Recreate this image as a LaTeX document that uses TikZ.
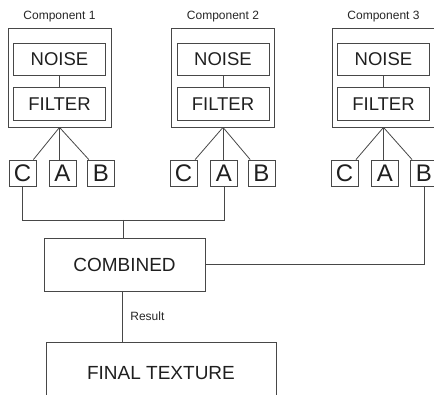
\documentclass[tikz,border=0pt]{standalone}
\usepackage{fontspec}
\setmainfont{Liberation Sans}
\begin{document}
\begin{tikzpicture}[x=1pt,y=-1pt,
  line/.style={draw=black!72,line width=0.8pt},
  outerbox/.style={line,minimum width=103pt,minimum height=99pt,inner sep=0pt},
  innerbox/.style={line,minimum width=92pt,minimum height=32.5pt,inner sep=0pt,font=\fontsize{18.5}{20}\selectfont,text=black!88},
  letterbox/.style={line,minimum width=27pt,minimum height=26pt,inner sep=0pt,font=\fontsize{24}{24}\selectfont,text=black!88},
  biglabel/.style={font=\fontsize{12}{14}\selectfont,text=black!85,inner sep=0pt},
  bigbox/.style={line,inner sep=0pt,font=\fontsize{19}{21}\selectfont,text=black!88}]
\useasboundingbox (0,0) rectangle (434,395);
\clip (0,0) rectangle (434,395);
% components
\foreach \i/\cx in {1/59.5,2/223,3/383.5}{
  \node[biglabel] (lab\i) at (\cx,17) {Component \i};
  \node[outerbox] (comp\i) at (\cx,77.5) {};
  \node[innerbox] (noise\i) at (\cx,59.5) {NOISE};
  \node[innerbox] (filter\i) at (\cx,104) {FILTER};
  \draw[line] (noise\i) -- (filter\i);
  \coordinate (apex\i) at (comp\i.south);
}
% letter boxes
\node[letterbox] (c1) at (22.5,173) {C};
\node[letterbox] (a1) at (62.5,173) {A};
\node[letterbox] (b1) at (101,173) {B};
\node[letterbox] (c2) at (183.5,173) {C};
\node[letterbox] (a2) at (224,173) {A};
\node[letterbox] (b2) at (261.5,173) {B};
\node[letterbox] (c3) at (344.5,173) {C};
\node[letterbox] (a3) at (385,173) {A};
\node[letterbox] (b3) at (424,173) {B};
\foreach \i in {1,2,3}{
  \draw[line] (apex\i) -- (c\i);
  \draw[line] (apex\i) -- (apex\i |- a\i.north);
  \draw[line] (apex\i) -- (b\i);
}
% combined and final
\node[bigbox,minimum width=161pt,minimum height=53pt] (comb) at (124.5,264.5) {COMBINED};
\node[bigbox,minimum width=230pt,minimum height=62pt] (final) at (161,373) {FINAL TEXTURE};
\coordinate (busl) at (c1.south |- 0,220);
\coordinate (busr) at (a2.south |- 0,220);
\coordinate (busm) at (123,220);
\draw[line] (c1.south) -- (busl) -- (busr) -- (a2.south);
\draw[line] (busm) -- (busm |- comb.north);
\coordinate (combr) at (b3.south |- comb.east);
\draw[line] (comb.east) -- (combr) -- (b3.south);
\coordinate (res) at (122,0);
\draw[line] (res |- comb.south) -- (res |- final.north)
  node[biglabel,midway,right=8pt] (reslab) {Result};
\end{tikzpicture}
\end{document}
